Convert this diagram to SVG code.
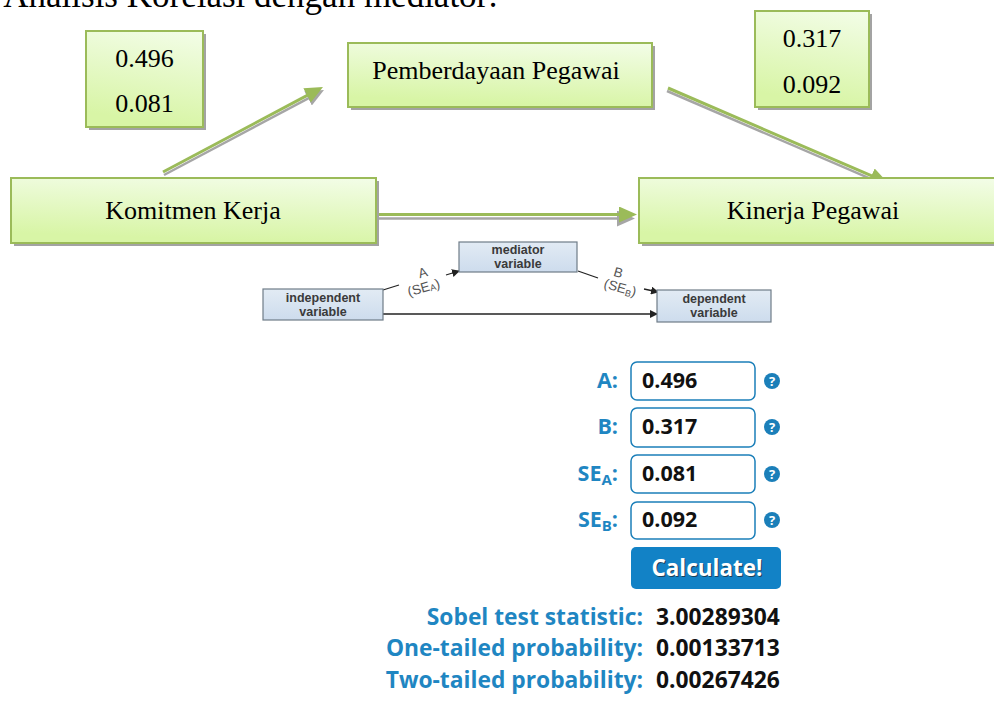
<svg xmlns="http://www.w3.org/2000/svg" width="994" height="702" viewBox="0 0 994 702">
  <style>
    .serif { font-family: "Liberation Serif", "Times New Roman", serif; fill: #000; }
    .gbox { fill: url(#greenFill); stroke: #9bbb59; stroke-width: 2; }
    .gshadow { fill: #a3a3a3; }
    .gline { fill: none; stroke: #9bbb59; stroke-width: 3; }
    .sline { fill: none; stroke: #a6a6a6; stroke-width: 2.5; }
    .bbox { fill: url(#blueFill); stroke: #6f7c88; stroke-width: 1.2; }
    .blabel { font-family: "Liberation Sans", Arial, sans-serif; font-weight: bold; font-size: 12.5px; fill: #3a3a3a; text-anchor: middle; }
    .path-lbl { font-family: "Liberation Sans", Arial, sans-serif; font-size: 13.5px; fill: #555; text-anchor: middle; }
    .thin { fill: none; stroke: #222; stroke-width: 1.3; }
    .flabel { font-family: "Open Sans", "Liberation Sans", sans-serif; font-weight: bold; font-size: 21.5px; fill: #1f86c2; text-anchor: end; }
    .fval { font-family: "Open Sans", "Liberation Sans", sans-serif; font-weight: bold; font-size: 21.5px; fill: #111; }
    .field { fill: #fff; stroke: #1b7fb9; stroke-width: 1.5; }
    .help { fill: #1b7fb9; }
    .helpq { font-family: "Open Sans", "Liberation Sans", sans-serif; font-weight: bold; font-size: 13px; fill: #fff; text-anchor: middle; }
    .rlabel { font-family: "Open Sans", "Liberation Sans", sans-serif; font-weight: bold; font-size: 22.8px; fill: #1f86c2; text-anchor: end; }
    .rval { font-family: "Open Sans", "Liberation Sans", sans-serif; font-weight: bold; font-size: 22.8px; fill: #111; }
  </style>
  <defs>
    <linearGradient id="greenFill" x1="1" y1="0" x2="0.8" y2="1">
      <stop offset="0" stop-color="#f3fde8"/>
      <stop offset="1" stop-color="#d8f5a6"/>
    </linearGradient>
    <linearGradient id="blueFill" x1="0" y1="0" x2="0" y2="1">
      <stop offset="0" stop-color="#e2ebf4"/>
      <stop offset="1" stop-color="#cddced"/>
    </linearGradient>
    <marker id="headGreen" viewBox="0 0 18 16" refX="6" refY="8" markerWidth="18" markerHeight="16" markerUnits="userSpaceOnUse" orient="auto">
      <path d="M0,0 L18,8 L0,16 z" fill="#9bbb59"/>
    </marker>
    <marker id="headGray" viewBox="0 0 18 16" refX="6" refY="8" markerWidth="18" markerHeight="16" markerUnits="userSpaceOnUse" orient="auto">
      <path d="M0,0 L18,8 L0,16 z" fill="#a6a6a6"/>
    </marker>
    <marker id="headBlack" viewBox="0 0 8 8" refX="7" refY="4" markerWidth="8" markerHeight="8" markerUnits="userSpaceOnUse" orient="auto">
      <path d="M0,0 L8,4 L0,8 z" fill="#222"/>
    </marker>
  </defs>

  <rect width="994" height="702" fill="#fff"/>

  <!-- heading line, clipped by the top edge -->
  <text class="serif" font-size="35" x="498" y="7" text-anchor="end">Analisis Korelasi dengan mediator:</text>

  <!-- path model connectors -->
  <g id="connectors">
    <path class="sline" d="M164,175 L313.4,95.6" marker-end="url(#headGray)"/>
    <path class="gline" d="M163,172 L312.4,92.6" marker-end="url(#headGreen)"/>
    <path class="sline" d="M667,91 L876,181.2" marker-end="url(#headGray)"/>
    <path class="gline" d="M668,88 L877,178.2" marker-end="url(#headGreen)"/>
    <path class="sline" d="M376,218.5 L623,218.5" marker-end="url(#headGray)"/>
    <path class="gline" d="M376,214.5 L625,214.5" marker-end="url(#headGreen)"/>
  </g>

  <g id="coef-a">
    <rect class="gshadow" x="89" y="34" width="117" height="96"/>
    <rect class="gbox" x="86" y="31" width="117" height="96"/>
    <text class="serif" font-size="26" x="144.5" y="67" text-anchor="middle">0.496</text>
    <text class="serif" font-size="26" x="144.5" y="112" text-anchor="middle">0.081</text>
  </g>

  <g id="pemberdayaan">
    <rect class="gshadow" x="351" y="46" width="304" height="64"/>
    <rect class="gbox" x="348" y="43" width="304" height="64"/>
    <text class="serif" font-size="26" x="496" y="79" text-anchor="middle">Pemberdayaan Pegawai</text>
  </g>

  <g id="coef-b">
    <rect class="gshadow" x="758" y="14" width="114" height="96"/>
    <rect class="gbox" x="755" y="11" width="114" height="96"/>
    <text class="serif" font-size="26" x="812" y="47" text-anchor="middle">0.317</text>
    <text class="serif" font-size="26" x="812" y="93" text-anchor="middle">0.092</text>
  </g>

  <g id="komitmen">
    <rect class="gshadow" x="14" y="181" width="365" height="65"/>
    <rect class="gbox" x="11" y="178" width="365" height="65"/>
    <text class="serif" font-size="26" x="193" y="219" text-anchor="middle">Komitmen Kerja</text>
  </g>

  <g id="kinerja">
    <rect class="gshadow" x="642" y="181" width="360" height="65"/>
    <rect class="gbox" x="639" y="178" width="360" height="65"/>
    <text class="serif" font-size="26" x="813" y="219" text-anchor="middle">Kinerja Pegawai</text>
  </g>

  <!-- mediation schematic -->
  <g id="schematic-lines">
    <path class="thin" d="M383,290 L399,285"/>
    <path class="thin" d="M446,275 L459,271" marker-end="url(#headBlack)"/>
    <path class="thin" d="M578,271 L598,278"/>
    <path class="thin" d="M644,289 L658,292" marker-end="url(#headBlack)"/>
    <path class="thin" d="M383,314 L657,314" marker-end="url(#headBlack)"/>
    <text class="path-lbl" x="424" y="277" transform="rotate(-16 424 277)">A</text>
    <text class="path-lbl" x="425" y="292" transform="rotate(-16 425 292)">(SE<tspan font-size="9" dy="1">A</tspan><tspan dy="-1">)</tspan></text>
    <text class="path-lbl" x="617" y="277" transform="rotate(16 617 277)">B</text>
    <text class="path-lbl" x="619" y="292" transform="rotate(16 619 292)">(SE<tspan font-size="9" dy="2">B</tspan><tspan dy="-2">)</tspan></text>
  </g>

  <g id="independent">
    <rect class="bbox" x="263" y="289" width="120" height="31"/>
    <text class="blabel" x="323" y="302">independent</text>
    <text class="blabel" x="323" y="316">variable</text>
  </g>

  <g id="mediator">
    <rect class="bbox" x="459" y="242" width="118" height="30"/>
    <text class="blabel" x="518" y="254">mediator</text>
    <text class="blabel" x="518" y="268">variable</text>
  </g>

  <g id="dependent">
    <rect class="bbox" x="657" y="290" width="114" height="32"/>
    <text class="blabel" x="714" y="303">dependent</text>
    <text class="blabel" x="714" y="317">variable</text>
  </g>

  <!-- calculator form -->
  <g id="field-a">
    <text class="flabel" x="618" y="388">A:</text>
    <rect class="field" x="631" y="362" width="124" height="38" rx="6"/>
    <text class="fval" x="642" y="388">0.496</text>
    <circle class="help" cx="772" cy="381" r="8"/>
    <text class="helpq" x="772" y="386">?</text>
  </g>
  <g id="field-b">
    <text class="flabel" x="618" y="434">B:</text>
    <rect class="field" x="631" y="408" width="124" height="39" rx="6"/>
    <text class="fval" x="642" y="434">0.317</text>
    <circle class="help" cx="772" cy="427" r="8"/>
    <text class="helpq" x="772" y="432">?</text>
  </g>
  <g id="field-sea">
    <text class="flabel" x="618" y="481">SE<tspan font-size="15" dy="4">A</tspan><tspan dy="-4">:</tspan></text>
    <rect class="field" x="631" y="455" width="124" height="38" rx="6"/>
    <text class="fval" x="642" y="481">0.081</text>
    <circle class="help" cx="772" cy="474" r="8"/>
    <text class="helpq" x="772" y="479">?</text>
  </g>
  <g id="field-seb">
    <text class="flabel" x="618" y="527">SE<tspan font-size="15" dy="4">B</tspan><tspan dy="-4">:</tspan></text>
    <rect class="field" x="631" y="502" width="124" height="37" rx="6"/>
    <text class="fval" x="642" y="527">0.092</text>
    <circle class="help" cx="772" cy="520" r="8"/>
    <text class="helpq" x="772" y="525">?</text>
  </g>

  <g id="calculate">
    <rect x="631" y="547" width="150" height="42" rx="5" fill="#1282c6"/>
    <text x="707" y="576" font-family="Open Sans, Liberation Sans, sans-serif" font-weight="bold" font-size="22.5" fill="#1a3f5a" text-anchor="middle" dx="1" dy="1">Calculate!</text>
    <text x="707" y="576" font-family="Open Sans, Liberation Sans, sans-serif" font-weight="bold" font-size="22.5" fill="#fff" text-anchor="middle">Calculate!</text>
  </g>

  <g id="results">
    <text class="rlabel" x="643" y="625">Sobel test statistic:</text>
    <text class="rval" x="656" y="625">3.00289304</text>
    <text class="rlabel" x="643" y="656">One-tailed probability:</text>
    <text class="rval" x="656" y="656">0.00133713</text>
    <text class="rlabel" x="643" y="688">Two-tailed probability:</text>
    <text class="rval" x="656" y="688">0.00267426</text>
  </g>
</svg>
